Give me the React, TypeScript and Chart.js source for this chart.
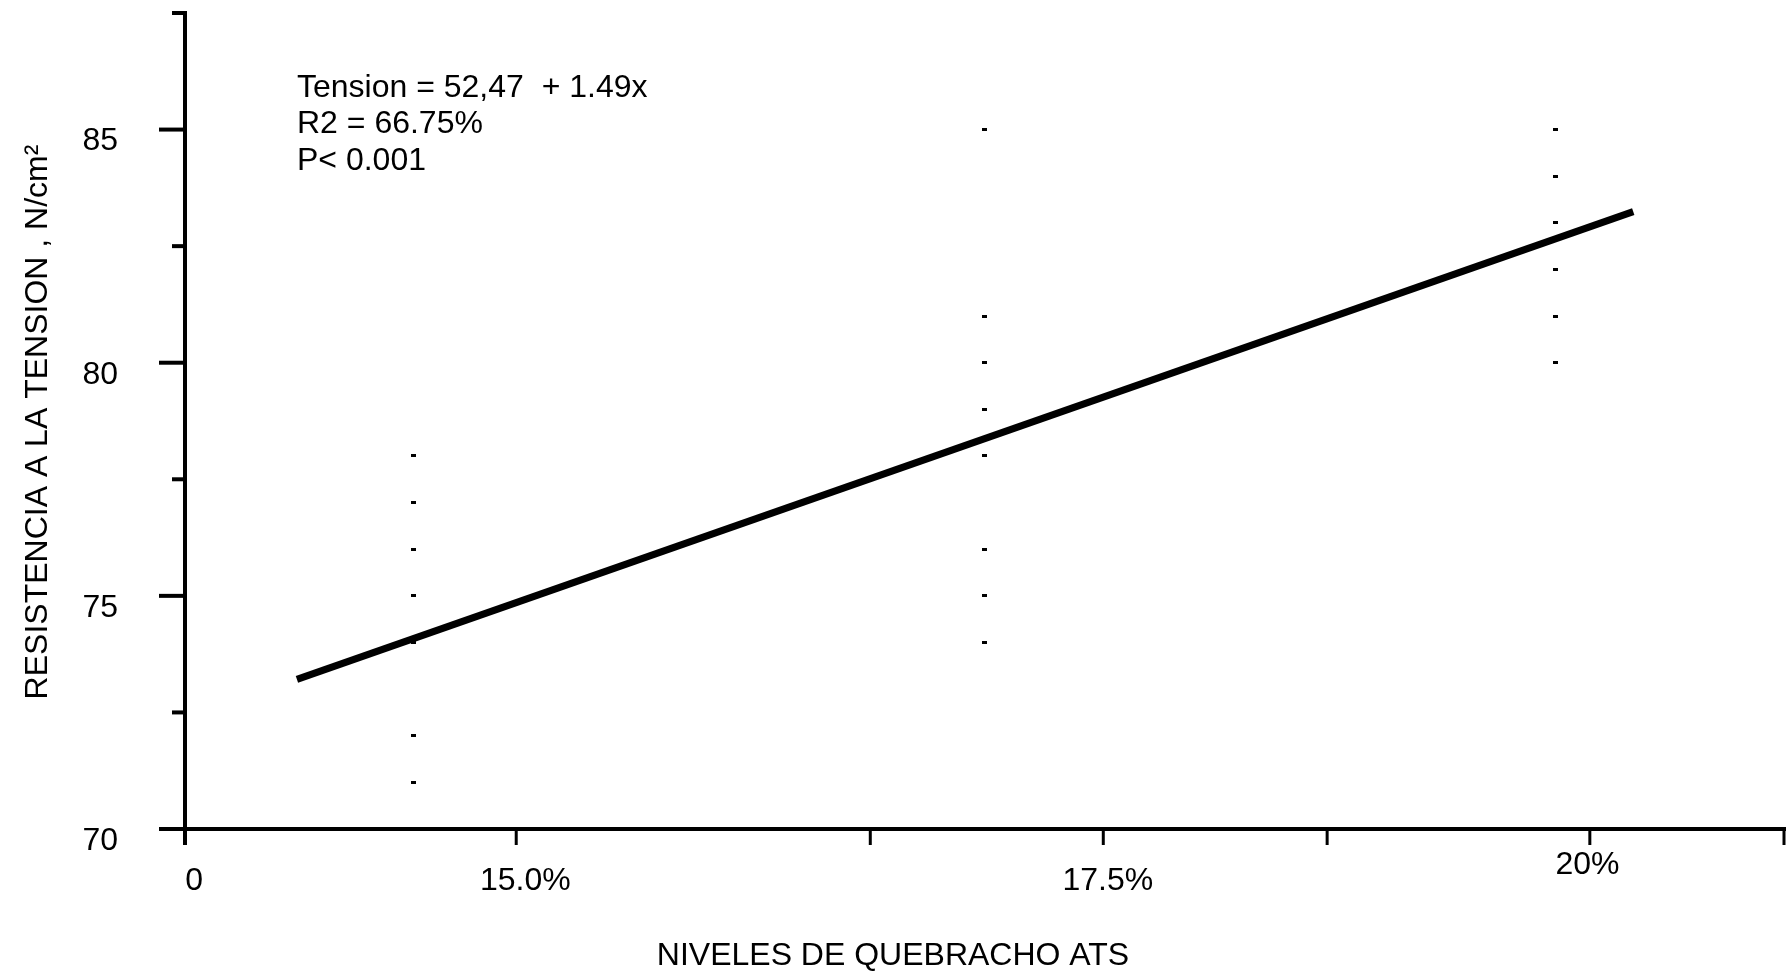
import React, { useEffect, useRef } from 'react';
import { Chart, registerables } from 'chart.js';

Chart.register(...registerables);

// ---- data ----
const levels = [15, 17.5, 20];
const tension15 = [78, 77, 76, 75, 74, 72, 71];
const tension175 = [85, 81, 80, 79, 78, 76, 75, 74];
const tension20 = [85, 84, 83, 82, 81, 80];
const fitX = [14.49, 20.34];
const fitY = [73.21, 83.24];
const xTicks = [14, 15.45, 17, 18.02, 19, 20.15, 21];
const xLabelAt = [14.04, 15.49, 18.04, 20.14];
const xLabelText = ['0', '15.0%', '17.5%', '20%'];
const yTicks = [70, 72.5, 75, 77.5, 80, 82.5, 85, 87.5];
const yLabels = [70, 75, 80, 85];
const annotationLines = ['Tension = 52,47  + 1.49x', 'R2 = 66.75%', 'P< 0.001'];
const xTitle = 'NIVELES DE QUEBRACHO ATS';
const yTitle = 'RESISTENCIA A LA TENSION , N/cm\u00B2';

// ---- style ----
const FONT = '32px "Liberation Sans", Arial, Helvetica, sans-serif';
const AXIS_W = 4;

const handAxes = {
  id: 'handAxes',
  afterDraw(chart: any) {
    const ctx = chart.ctx as CanvasRenderingContext2D;
    const xs = chart.scales.x;
    const ys = chart.scales.y;
    const left = chart.chartArea.left;
    const bottom = chart.chartArea.bottom;
    const right = chart.chartArea.right;
    ctx.save();
    ctx.strokeStyle = '#000';
    ctx.fillStyle = '#000';
    ctx.lineWidth = AXIS_W;
    ctx.lineCap = 'butt';
    // y axis line
    ctx.beginPath();
    ctx.moveTo(left, ys.getPixelForValue(87.5) - 2);
    ctx.lineTo(left, bottom + 16);
    ctx.stroke();
    // x axis line
    ctx.beginPath();
    ctx.moveTo(left - 26, bottom);
    ctx.lineTo(right + 2, bottom);
    ctx.stroke();
    // y ticks
    yTicks.forEach((v) => {
      const y = ys.getPixelForValue(v);
      const len = v % 5 === 0 ? 26 : 13;
      ctx.beginPath();
      ctx.moveTo(left - len, y);
      ctx.lineTo(left, y);
      ctx.stroke();
    });
    // x ticks
    ctx.lineWidth = 3;
    xTicks.forEach((v) => {
      const x = xs.getPixelForValue(v);
      ctx.beginPath();
      ctx.moveTo(x, bottom);
      ctx.lineTo(x, bottom + 16);
      ctx.stroke();
    });
    // labels
    ctx.font = FONT;
    ctx.textBaseline = 'middle';
    ctx.textAlign = 'right';
    yLabels.forEach((v) => {
      ctx.fillText(String(v), left - 67, ys.getPixelForValue(v) + 12);
    });
    ctx.textAlign = 'center';
    xLabelAt.forEach((v, i) => {
      const yOff = i === xLabelAt.length - 1 ? 36 : 52;
      ctx.fillText(xLabelText[i], xs.getPixelForValue(v), bottom + yOff);
    });
    // axis titles
    ctx.fillText(xTitle, 893, bottom + 127);
    ctx.save();
    ctx.translate(38, 422);
    ctx.rotate(-Math.PI / 2);
    ctx.fillText(yTitle, 0, 0);
    ctx.restore();
    // annotation
    ctx.textAlign = 'left';
    annotationLines.forEach((t, i) => {
      ctx.fillText(t, 297, 88 + i * 36.5);
    });
    ctx.restore();
  },
};

export default function App() {
  const ref = useRef<HTMLCanvasElement | null>(null);
  useEffect(() => {
    if (!ref.current) return;
    const marker = document.createElement('canvas');
    marker.width = 5;
    marker.height = 3;
    const mctx = marker.getContext('2d')!;
    mctx.fillStyle = '#000';
    mctx.fillRect(0, 0, 5, 3);

    const pts = [
      ...tension15.map((y) => ({ x: levels[0], y })),
      ...tension175.map((y) => ({ x: levels[1], y })),
      ...tension20.map((y) => ({ x: levels[2], y })),
    ];
    const fit = fitX.map((x, i) => ({ x, y: fitY[i] }));

    const chart = new Chart(ref.current, {
      type: 'scatter',
      data: {
        datasets: [
          {
            label: 'observations',
            data: pts,
            pointStyle: marker as any,
            pointRadius: 3,
            backgroundColor: '#000',
            borderColor: '#000',
          },
          {
            type: 'line',
            label: 'fit',
            data: fit,
            showLine: true,
            borderColor: '#000',
            borderWidth: 7,
            pointRadius: 0,
            borderCapStyle: 'butt',
          } as any,
        ],
      },
      options: {
        animation: false,
        responsive: true,
        maintainAspectRatio: false,
        layout: { padding: { top: 13, right: 0, left: 0, bottom: 0 } },
        plugins: { legend: { display: false }, tooltip: { enabled: false } },
        scales: {
          x: {
            type: 'linear',
            min: 14,
            max: 21,
            grid: { display: false },
            border: { display: false },
            ticks: { display: false },
            afterFit: (s: any) => { s.height = 144; },
          },
          y: {
            type: 'linear',
            min: 70,
            max: 87.5,
            grid: { display: false },
            border: { display: false },
            ticks: { display: false },
            afterFit: (s: any) => { s.width = 185; },
          },
        },
      },
      plugins: [handAxes],
    });
    return () => chart.destroy();
  }, []);

  return (
    <div style={{ position: 'absolute', left: 0, top: 0, width: 1789, height: 973, background: '#fff' }}>
      <canvas ref={ref} />
    </div>
  );
}
